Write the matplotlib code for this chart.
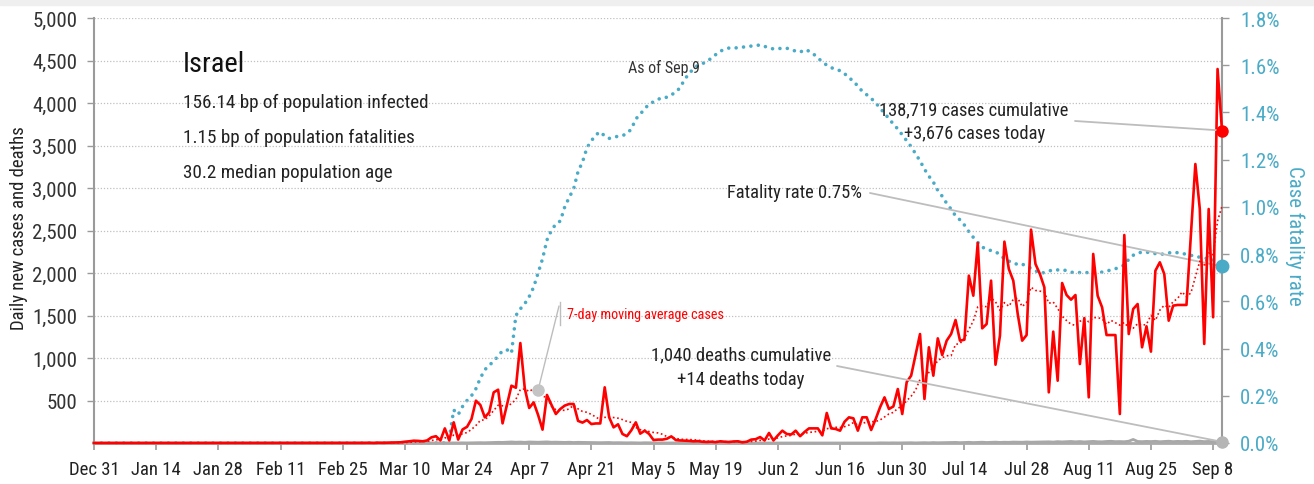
import numpy as np
import pandas as pd
import matplotlib
matplotlib.use("Agg")
import matplotlib.pyplot as plt
from matplotlib import font_manager as fm
from matplotlib.lines import Line2D
from matplotlib.patches import Rectangle
from matplotlib.transforms import IdentityTransform

# ---------------- data ----------------
x_tick_days = [0, 14, 28, 42, 56, 70, 84, 98, 112, 126, 140, 154, 168, 182, 196, 210, 224, 238, 252]
x_tick_labels = ["Dec 31", "Jan 14", "Jan 28", "Feb 11", "Feb 25", "Mar 10", "Mar 24", "Apr 7",
                 "Apr 21", "May 5", "May 19", "Jun 2", "Jun 16", "Jun 30", "Jul 14", "Jul 28",
                 "Aug 11", "Aug 25", "Sep 8"]
n_days = 255  # Dec 31 .. last reported day

# daily new cases, from Feb 29 (day 60) to the last day
daily_cases = [
    0, 1, 2, 0, 3, 2, 4, 5, 6, 8,
    15, 20, 27, 25, 20, 30, 67, 80, 30, 172,
    30, 243, 40, 160, 190, 282, 498, 447, 302, 361,
    596, 627, 231, 450, 674, 650, 1176, 643, 412, 478,
    330, 157, 565, 450, 341, 400, 440, 459, 459, 260,
    240, 270, 223, 230, 230, 655, 302, 184, 220, 106,
    80, 150, 243, 110, 145, 106, 35, 40, 40, 50,
    78, 35, 30, 28, 25, 20, 22, 15, 12, 15,
    10, 20, 15, 12, 18, 20, 8, 15, 40, 45,
    70, 30, 118, 30, 90, 145, 106, 100, 145, 80,
    130, 172, 172, 172, 90, 353, 172, 165, 145, 250,
    302, 290, 145, 302, 302, 153, 280, 420, 537, 400,
    430, 635, 341, 717, 792, 1040, 1282, 518, 1126, 792,
    1231, 1035, 1204, 1282, 1447, 1204, 1215, 1969, 1733, 2353,
    1349, 1400, 1910, 921, 1263, 2369, 2047, 1910, 1518, 1204,
    1270, 2510, 2106, 1988, 1831, 596, 1310, 733, 1882, 1741,
    1686, 1741, 929, 1470, 537, 2224, 1733, 1596, 1270, 1270,
    1270, 341, 2447, 1282, 1576, 1635, 1126, 1373, 1075, 2027,
    2126, 1988, 1439, 1616, 1624, 1624, 1624, 2450, 3282, 2753,
    1165, 2753, 1479, 4400, 3676,
]

# daily new deaths, from Mar 20 (day 80) to the last day
daily_deaths = [
    1, 0, 1, 2, 1, 2, 3, 4, 3, 5, 6,
    8, 7, 10, 12, 9, 11, 8, 12, 10, 9, 11, 13, 9, 10, 8, 7, 9, 6, 8, 7, 5, 6, 5, 4, 5, 6, 3, 4, 3, 2, 3,
    2, 1, 3, 2, 1, 1, 2, 0, 1, 1, 2, 0, 1, 0, 1, 1, 0, 0, 1, 0, 0, 1, 0, 0, 1, 0, 0, 0, 1, 0, 0,
    0, 1, 0, 0, 1, 0, 0, 1, 0, 1, 0, 0, 1, 1, 0, 0, 1, 0, 1, 1, 0, 1, 1, 0, 2, 1, 1, 2, 1, 2,
    2, 3, 1, 3, 4, 2, 5, 3, 4, 6, 5, 7, 4, 6, 8, 5, 7, 9, 6, 8, 10, 7, 9, 8, 11, 10, 9, 12, 10, 11, 13,
    12, 14, 11, 16, 13, 15, 18, 14, 17, 13, 16, 19, 15, 14, 18, 20, 16, 17, 15, 21, 42, 18, 16, 19, 17, 20, 15, 18, 21, 16, 19,
    17, 20, 15, 18, 22, 16, 19, 14, 17, 14,
]

# case fatality rate (%), from Mar 19 (day 79) to the last day
fatality_rate = [
    0.0, 0.02, 0.14, 0.12, 0.155, 0.18, 0.2, 0.23, 0.275, 0.31,
    0.33, 0.345, 0.37, 0.39, 0.395, 0.38, 0.54, 0.568, 0.59, 0.62,
    0.66, 0.72, 0.78, 0.86, 0.9, 0.928, 0.94, 1.0, 1.04, 1.076,
    1.15, 1.19, 1.25, 1.28, 1.305, 1.318, 1.3, 1.29, 1.295, 1.299,
    1.302, 1.31, 1.33, 1.372, 1.393, 1.415, 1.436, 1.445, 1.455, 1.464,
    1.464, 1.475, 1.485, 1.506, 1.54, 1.565, 1.585, 1.6, 1.607, 1.615,
    1.63, 1.645, 1.66, 1.666, 1.673, 1.673, 1.674, 1.676, 1.68, 1.681,
    1.683, 1.686, 1.68, 1.673, 1.669, 1.67, 1.672, 1.672, 1.665, 1.66,
    1.655, 1.666, 1.66, 1.648, 1.63, 1.615, 1.6, 1.59, 1.582, 1.577,
    1.565, 1.545, 1.535, 1.51, 1.49, 1.475, 1.46, 1.44, 1.42, 1.395,
    1.375, 1.35, 1.33, 1.305, 1.28, 1.255, 1.225, 1.195, 1.16, 1.13,
    1.105, 1.07, 1.045, 1.015, 0.99, 0.962, 0.945, 0.923, 0.895, 0.871,
    0.85, 0.83, 0.82, 0.815, 0.81, 0.798, 0.78, 0.77, 0.765, 0.755,
    0.758, 0.748, 0.74, 0.73, 0.718, 0.722, 0.728, 0.734, 0.733, 0.734,
    0.73, 0.724, 0.72, 0.722, 0.723, 0.721, 0.72, 0.72, 0.724, 0.728,
    0.733, 0.738, 0.745, 0.754, 0.778, 0.795, 0.805, 0.808, 0.808, 0.806,
    0.802, 0.8, 0.8, 0.805, 0.808, 0.806, 0.802, 0.8, 0.795, 0.79,
    0.787, 0.784, 0.78, 0.776, 0.765, 0.748,
]

left_ticks = [500, 1000, 1500, 2000, 2500, 3000, 3500, 4000, 4500, 5000]
right_ticks = [0.0, 0.2, 0.4, 0.6, 0.8, 1.0, 1.2, 1.4, 1.6, 1.8]

# ---------------- fonts ----------------
names = {f.name for f in fm.fontManager.ttflist}
cands = ["Roboto Condensed", "Liberation Sans Narrow", "Open Sans Condensed",
         "Noto Sans Condensed", "DejaVu Sans Condensed"]
chosen = next((c for c in cands if c in names), None)
scale = 1.0
stretch = "normal"
if chosen is None:
    dv_cond = any(f.name == "DejaVu Sans" and "Condensed" in f.fname for f in fm.fontManager.ttflist)
    chosen = "DejaVu Sans"
    if dv_cond:
        stretch = "condensed"
    else:
        scale = 0.8
plt.rcParams["font.family"] = [chosen, "DejaVu Sans"]
plt.rcParams["font.stretch"] = stretch


def fs(v):
    return v * scale


RED = "#ff0000"
BLUE = "#4aabc7"
GREY = "#9a9a9a"
LEAD = "#bdbdbd"
TXT = "#222222"

W, H = 1314, 485
fig = plt.figure(figsize=(W / 100, H / 100), dpi=100)
fig.patches.append(Rectangle((0, 1 - 6 / H), 1, 6 / H, transform=fig.transFigure,
                             color="#efefef", zorder=0))
ax = fig.add_axes([94 / W, 41 / H, 1128 / W, 425 / H])
ax2 = ax.twinx()
ax.set_zorder(ax2.get_zorder() + 1)
ax.patch.set_visible(False)

# ---------------- series ----------------
days = np.arange(n_days)
cases = np.concatenate([np.zeros(n_days - len(daily_cases)), np.array(daily_cases, float)])
deaths = np.concatenate([np.zeros(n_days - len(daily_deaths)), np.array(daily_deaths, float)])
rate = np.concatenate([np.zeros(n_days - len(fatality_rate)), np.array(fatality_rate, float)])
ma7 = pd.Series(cases).rolling(7, min_periods=1).mean().values

ax2.plot(days, rate, color=BLUE, lw=2.6, linestyle=(0, (0.01, 2.05)),
         dash_capstyle="round", clip_on=False, zorder=3)
ax.plot(days, deaths, color="#a8a8a8", lw=2.0, clip_on=False, zorder=3)
ax.plot(days, ma7, color=RED, lw=1.2, linestyle=(0, (1, 1.6)), clip_on=False, zorder=4)
ax.plot(days, cases, color=RED, lw=1.9, clip_on=False, zorder=5)

# end markers
ax.plot(days[-1], cases[-1], "o", color=RED, ms=8, clip_on=False, zorder=8)
ax.plot(days[-1], deaths[-1], "o", color="#b5b5b5", ms=8, clip_on=False, zorder=8)
ax2.plot(days[-1], rate[-1], "o", color=BLUE, ms=9, clip_on=False, zorder=8)
ma_day = 100
ax.plot(days[ma_day], ma7[ma_day], "o", color="#c4c4c4", ms=8, clip_on=False, zorder=8)

# ---------------- axes ----------------
ax.set_xlim(0, n_days - 1)
ax.set_ylim(0, 5000)
ax2.set_ylim(0, 1.8)

ax.set_xticks(x_tick_days)
ax.set_xticklabels(x_tick_labels)
ax.set_yticks(left_ticks)
ax.set_yticklabels([f"{v:,}" for v in left_ticks])
ax2.set_yticks(right_ticks)
ax2.set_yticklabels([f"{v:.1f}%" for v in right_ticks])

ax.yaxis.grid(True, linestyle=(0, (1, 1.5)), color="#c0c0c0", lw=0.9)
ax.set_axisbelow(True)

for a in (ax, ax2):
    a.spines["top"].set_visible(False)
ax.spines["right"].set_visible(False)
ax2.spines["left"].set_visible(False)
ax2.spines["bottom"].set_visible(False)
ax.spines["left"].set_color(GREY)
ax.spines["left"].set_linewidth(1.5)
ax.spines["bottom"].set_color("#aaaaaa")
ax.spines["bottom"].set_linewidth(2.0)
ax2.spines["right"].set_color(GREY)
ax2.spines["right"].set_linewidth(1.5)

ax.tick_params(axis="x", length=5, width=1.2, color=GREY, pad=7,
               labelsize=fs(13.5), labelcolor=TXT)
ax.tick_params(axis="y", length=5, width=1.0, color=GREY, pad=7,
               labelsize=fs(15), labelcolor="#333333")
ax2.tick_params(axis="y", length=5, width=1.0, color=GREY, pad=8,
                labelsize=fs(15), labelcolor=BLUE)

fig.text(19 / W, 1 - 228 / H, "Daily new cases and deaths", rotation=90,
         ha="center", va="center", fontsize=fs(13.5), color=TXT)
fig.text(1295 / W, 1 - 236 / H, "Case fatality rate", rotation=270,
         ha="center", va="center", fontsize=fs(15), color=BLUE)


def ftext(x, y, s, **kw):
    fig.text(x / W, 1 - y / H, s, **kw)


ftext(183, 65, "Israel", ha="left", va="center", fontsize=fs(20.5), color="#111111")
ftext(183, 103, "156.14 bp of population infected", ha="left", va="center", fontsize=fs(13.8), color=TXT)
ftext(183, 138, "1.15 bp of population fatalities", ha="left", va="center", fontsize=fs(13.8), color=TXT)
ftext(183, 173, "30.2 median population age", ha="left", va="center", fontsize=fs(13.8), color=TXT)
ftext(700, 68, "As of Sep 9", ha="right", va="center", fontsize=fs(11.5), color="#333333")
ftext(974, 110, "138,719 cases cumulative", ha="center", va="center", fontsize=fs(13.3), color=TXT)
ftext(975, 134, "+3,676 cases today", ha="center", va="center", fontsize=fs(13.3), color=TXT)
ftext(862, 193, "Fatality rate 0.75%", ha="right", va="center", fontsize=fs(13.3), color=TXT)
ftext(741, 355, "1,040 deaths cumulative", ha="center", va="center", fontsize=fs(13.5), color=TXT)
ftext(741, 380, "+14 deaths today", ha="center", va="center", fontsize=fs(13.5), color=TXT)
ftext(567, 315, "7-day moving average cases", ha="left", va="center", fontsize=fs(10.2), color=RED)

# leader lines
lead = dict(arrowstyle="-", color=LEAD, lw=1.3, shrinkA=0, shrinkB=0)
ax.annotate("", xy=(days[-1], cases[-1]), xytext=(1075, H - 122),
            textcoords="figure pixels", arrowprops=lead, zorder=7, annotation_clip=False)
ax2.annotate("", xy=(days[-1], rate[-1]), xytext=(870, H - 194),
             textcoords="figure pixels", arrowprops=lead, zorder=7, annotation_clip=False)
ax.annotate("", xy=(days[-1], deaths[-1]), xytext=(837, H - 367),
            textcoords="figure pixels", arrowprops=lead, zorder=7, annotation_clip=False)
ax.annotate("", xy=(days[ma_day], ma7[ma_day]), xytext=(559, H - 307),
            textcoords="figure pixels", arrowprops=dict(arrowstyle="-", color=LEAD, lw=1.0,
                                                        shrinkA=0, shrinkB=0),
            zorder=7, annotation_clip=False)
fig.add_artist(Line2D([560, 560], [H - 303, H - 326], transform=IdentityTransform(),
                      color=LEAD, lw=1.0))

fig.savefig("out.png", dpi=100)
